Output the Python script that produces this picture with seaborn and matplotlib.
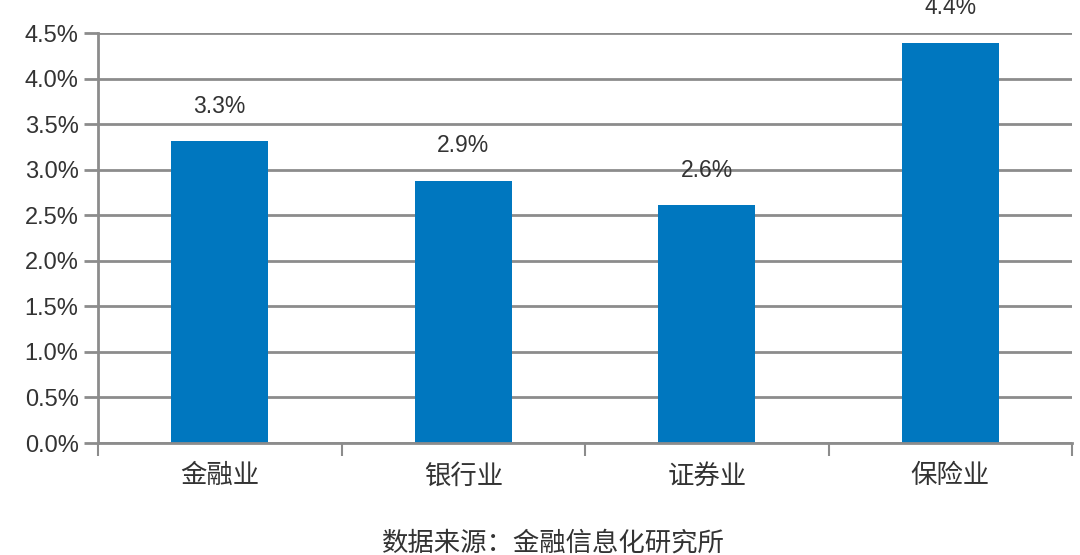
import matplotlib
matplotlib.use("Agg")
import matplotlib.pyplot as plt
import seaborn as sns
import pandas as pd
from matplotlib.ticker import FuncFormatter, FixedLocator

categories = ["金融业", "银行业", "证券业", "保险业"]
values = [3.3, 2.9, 2.6, 4.4]
bar_heights = [3.31, 2.88, 2.61, 4.39]
yticks = [0.0, 0.5, 1.0, 1.5, 2.0, 2.5, 3.0, 3.5, 4.0, 4.5]
source_text = "数据来源：金融信息化研究所"

sns.set_theme(style="white")
plt.rcParams['font.family'] = ['Liberation Sans', 'Noto Sans CJK SC', 'DejaVu Sans']

df = pd.DataFrame({"cat": categories, "val": bar_heights})

fig = plt.figure(figsize=(10.8, 5.55), dpi=100)
ax = fig.add_axes([98/1080, 1 - 443/555, (1072 - 98)/1080, (443 - 33)/555])

sns.barplot(data=df, x="cat", y="val", color="#0077BF", saturation=1, width=0.4,
            linewidth=0, edgecolor="none", ax=ax)

grid_c = "#8c8c8c"
txt_c = "#333333"
ax.set_xlim(-0.5, 3.5)
ax.set_ylim(0, 4.5)
ax.set_yticks(yticks)
ax.yaxis.set_major_formatter(FuncFormatter(lambda v, p: f"{v:.1f}%"))
ax.set_axisbelow(True)
ax.yaxis.grid(True, color=grid_c, linewidth=2)
ax.xaxis.grid(False)
for s in ["top", "right"]:
    ax.spines[s].set_visible(False)
for s in ["left", "bottom"]:
    ax.spines[s].set_color(grid_c)
    ax.spines[s].set_linewidth(2)
ax.tick_params(axis="y", length=10, width=2, color=grid_c, labelsize=17, labelcolor=txt_c, pad=4, left=True)
ax.tick_params(axis="x", which="major", length=0, labelsize=19, labelcolor=txt_c, pad=15)
ax.xaxis.set_minor_locator(FixedLocator([-0.5, 0.5, 1.5, 2.5, 3.5]))
ax.tick_params(axis="x", which="minor", length=9, width=1.5, color=grid_c, bottom=True)
ax.set_xlabel("")
ax.set_ylabel("")

labels = [f"{v:.1f}%" for v in values]
ax.bar_label(ax.containers[0], labels=labels, padding=17, fontsize=16.5, color=txt_c)

fig.text(553/1080, 1 - 543/555, source_text, ha="center", va="center", fontsize=19, color=txt_c)

fig.savefig("out.png", dpi=100)
